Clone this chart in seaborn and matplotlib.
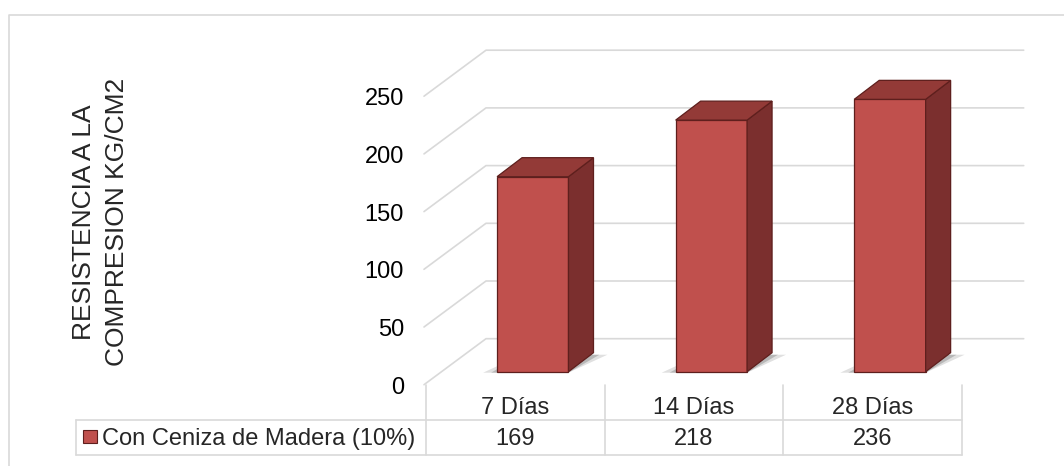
import matplotlib
matplotlib.use('Agg')
import matplotlib.pyplot as plt
import matplotlib.transforms as mtransforms
from matplotlib.patches import Polygon, Rectangle
from matplotlib.lines import Line2D
import seaborn as sns

# datos del grafico
dias = ['7 Días', '14 Días', '28 Días']
resistencia = [169, 218, 236]
serie = 'Con Ceniza de Madera (10%)'
ticks_y = [0, 50, 100, 150, 200, 250]
titulo_y = 'RESISTENCIA A LA\nCOMPRESION KG/CM2'

sns.set_theme(style='white')
plt.rcParams['font.family'] = ['Liberation Sans', 'DejaVu Sans']

W, H = 1064, 466
rojo = '#c0504d'
lado = '#7b2f2e'
tapa = '#933a37'
borde = '#5e1f1d'
gris = '#d9d9d9'
fs = 17

fig = plt.figure(figsize=(W / 100, H / 100), dpi=100)
ax = fig.add_axes([426 / W, (H - 371.7) / H, 535.7 / W, 288.5 / H])

sns.barplot(x=dias, y=resistencia, ax=ax, color=rojo, width=0.4,
            edgecolor=borde, linewidth=0.9, saturation=1)
ax.set_xlim(-0.5, 2.5)
ax.set_ylim(0, 250)
ax.axis('off')
ax.patch.set_visible(False)

ident = mtransforms.IdentityTransform()
desp = 17.5          # desplazamiento de las columnas (px)
dx, dy = 25, 19      # profundidad de las columnas (px)

# lineas de division (pared de fondo)
x_izq = ax.transData.transform((-0.5, 0))[0]
x_der = ax.transData.transform((2.5, 0))[0]
for v in ticks_y:
    yv = ax.transData.transform((0, v))[1]
    ln = Line2D([x_izq - 2, x_izq + 60, x_der + 62], [yv - 13, yv + 33, yv + 33],
                transform=ident, color=gris, lw=1.2, zorder=0.5, clip_on=False)
    ax.add_line(ln)
    ax.text(x_izq - 22, yv - 22, str(v), transform=ident, ha='right', va='baseline',
            fontsize=fs, color='black')

# columnas en 3D
off = mtransforms.ScaledTranslation(desp / 100, 0, fig.dpi_scale_trans)
for p in list(ax.patches):
    x0 = p.get_x()
    x1 = x0 + p.get_width()
    h = p.get_height()
    X0, Yb = ax.transData.transform((x0, 0))
    X1, Yt = ax.transData.transform((x1, h))
    X0 += desp
    X1 += desp
    p.set_transform(ax.transData + off)
    p.set_clip_on(False)
    p.set_zorder(3)
    for a, e in [(0.12, 14), (0.18, 6)]:
        sombra = Polygon([(X0 - e, Yb - 1), (X1, Yb - 1), (X1 + dx + e, Yb + dy - 2),
                          (X0 + dx, Yb + dy - 2)], closed=True, transform=ident,
                         facecolor='black', alpha=a, lw=0, zorder=1, clip_on=False)
        ax.add_patch(sombra)
    cara = Polygon([(X1, Yb), (X1, Yt), (X1 + dx, Yt + dy), (X1 + dx, Yb + dy)], closed=True,
                   transform=ident, facecolor=lado, edgecolor=borde, lw=0.9, zorder=3,
                   clip_on=False)
    techo = Polygon([(X0, Yt), (X0 + dx, Yt + dy), (X1 + dx, Yt + dy), (X1, Yt)], closed=True,
                    transform=ident, facecolor=tapa, edgecolor=borde, lw=0.9, zorder=3,
                    clip_on=False)
    ax.add_patch(cara)
    ax.add_patch(techo)

# tabla de datos
y_top, y_mid, y_bot = H - 385, H - 420, H - 455
for k in range(len(dias) + 1):
    xk = ax.transData.transform((k - 0.5, 0))[0]
    ax.add_line(Line2D([xk, xk], [y_top, y_bot], transform=ident, color=gris, lw=1.2,
                       clip_on=False))
for yy in [y_mid, y_bot]:
    ax.add_line(Line2D([76, x_der], [yy, yy], transform=ident, color=gris, lw=1.2,
                       clip_on=False))
ax.add_line(Line2D([76, 76], [y_mid, y_bot], transform=ident, color=gris, lw=1.2,
                   clip_on=False))

col = mtransforms.blended_transform_factory(ax.transData, ident)
for i, (d, v) in enumerate(zip(dias, resistencia)):
    ax.text(i, H - 414.3, d, transform=col, ha='center', va='baseline', fontsize=fs)
    ax.text(i, H - 445, str(v), transform=col, ha='center', va='baseline', fontsize=fs)

ax.add_patch(Rectangle((83, H - 443), 13.7, 13, transform=ident, facecolor=rojo,
                       edgecolor=borde, lw=0.8, clip_on=False))
ax.text(101.7, H - 445, serie, transform=ident, ha='left', va='baseline', fontsize=fs)

# titulo del eje
fig.text(100.5 / W, 1 - 222 / H, titulo_y, rotation=90, ha='center', va='center',
         multialignment='center', fontsize=19, linespacing=1.5)

# borde del grafico
fig.add_artist(Line2D([9, 9, W], [0, H - 15, H - 15], transform=ident, color=gris, lw=1.2))

fig.savefig('out.png', dpi=100)
